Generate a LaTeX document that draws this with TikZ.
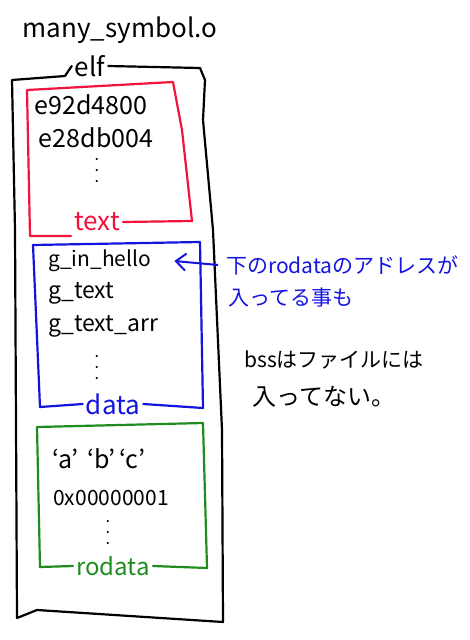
\documentclass[tikz,border=0pt]{standalone}
\usepackage{fontspec}
\usepackage{tikz}
\usetikzlibrary{arrows.meta}
\newfontfamily\jpfont{Noto Sans CJK JP}
\definecolor{penred}{RGB}{240,20,60}
\definecolor{penblue}{RGB}{20,20,225}
\definecolor{pengreen}{RGB}{30,140,30}
\tikzstyle{entry}=[inner sep=0pt, font=\jpfont\fontsize{23}{26}\selectfont]
\tikzstyle{secname}=[inner sep=3pt, font=\jpfont\fontsize{26}{28}\selectfont]
\tikzstyle{dotcol}=[inner sep=0pt, align=center, font=\jpfont\bfseries\fontsize{10}{11}\selectfont]
\tikzstyle{note}=[inner sep=0pt, anchor=west, font=\jpfont\fontsize{21}{24}\selectfont]
\tikzstyle{pen}=[line width=2.2pt, line cap=round, line join=round]
\tikzstyle{arrow}=[draw=penblue, line width=2pt, -{Straight Barb[length=3.5mm, width=6mm]}]

\begin{document}
\begin{tikzpicture}[x=1pt, y=-1pt]
		   \useasboundingbox (0,0) rectangle (470,640);
		   \begin{scope}
			   \node (title) at (120,30)[entry, font=\jpfont\fontsize{26}{30}\selectfont] {many\_symbol.o};
			   \node (elf) at (90,66)[secname] {elf};

			   \node (e1) at (91,105)[entry, font=\jpfont\fontsize{25}{28}\selectfont] {e92d4800};
			   \node (e2) at (96,138)[entry, font=\jpfont\fontsize{25}{28}\selectfont] {e28db004};
			   \node (tdots) at (97,171)[dotcol] {.\\.\\.};
			   \node (text) at (97,222)[secname, text=penred] {text};

			   \node (gin) at (48,261)[entry, anchor=west, font=\jpfont\fontsize{21}{24}\selectfont] {g\_in\_hello};
			   \node (gtext) at (48,293)[entry, anchor=west] {g\_text};
			   \node (garr) at (48,326)[entry, anchor=west] {g\_text\_arr};
			   \node (ddots) at (97,368)[dotcol] {.\\.\\.};
			   \node (data) at (113,404)[secname, text=penblue] {data};

			   \node (chars) at (99,459)[entry, font=\jpfont\fontsize{25}{28}\selectfont] {‘a’\,\,‘b’\,‘c’};
			   \node (one) at (111,498)[entry, font=\jpfont\fontsize{21}{24}\selectfont] {0x00000001};
			   \node (rdots) at (108,533)[dotcol] {.\\.\\.};
			   \node (rodata) at (113,566)[secname, font=\jpfont\fontsize{24}{26}\selectfont, text=pengreen] {rodata};

			   \node (note1) at (226,265)[note, text=penblue] {下のrodataのアドレスが};
			   \node (note2) at (228,298)[note, text=penblue] {入ってる事も};
			   \node (note3) at (244,360)[note] {bssはファイルには};
			   \node (note4) at (252,397)[note, font=\jpfont\fontsize{24}{26}\selectfont] {入ってない。};
		   \end{scope}
		   \begin{scope}
			   \draw [pen] (elf.west) -- (65,76) -- (12,80) -- (15,230) -- (17,618) -- (37,610)
				   -- (223,622) -- (222,430) -- (213,230) -- (203,120) -- (205,80) -- (200,68) -- (elf.east);
			   \draw [pen, penred] (text.east) -- (192,221) -- (182,130) -- (173,82) -- (27,90) -- (30,236) -- (text.west |- 0,236);
			   \draw [pen, penblue] (data.east) -- (203,408) -- (200,242) -- (33,245) -- (40,407) -- (data.west);
			   \draw [pen, pengreen] (rodata.east) -- (207,568) -- (203,423) -- (37,427) -- (40,567) -- (rodata.west);
			   \draw [arrow] ([xshift=-8pt]note1.west) -- ([xshift=23pt]gin.east);
		   \end{scope}
	   \end{tikzpicture}
\end{document}
